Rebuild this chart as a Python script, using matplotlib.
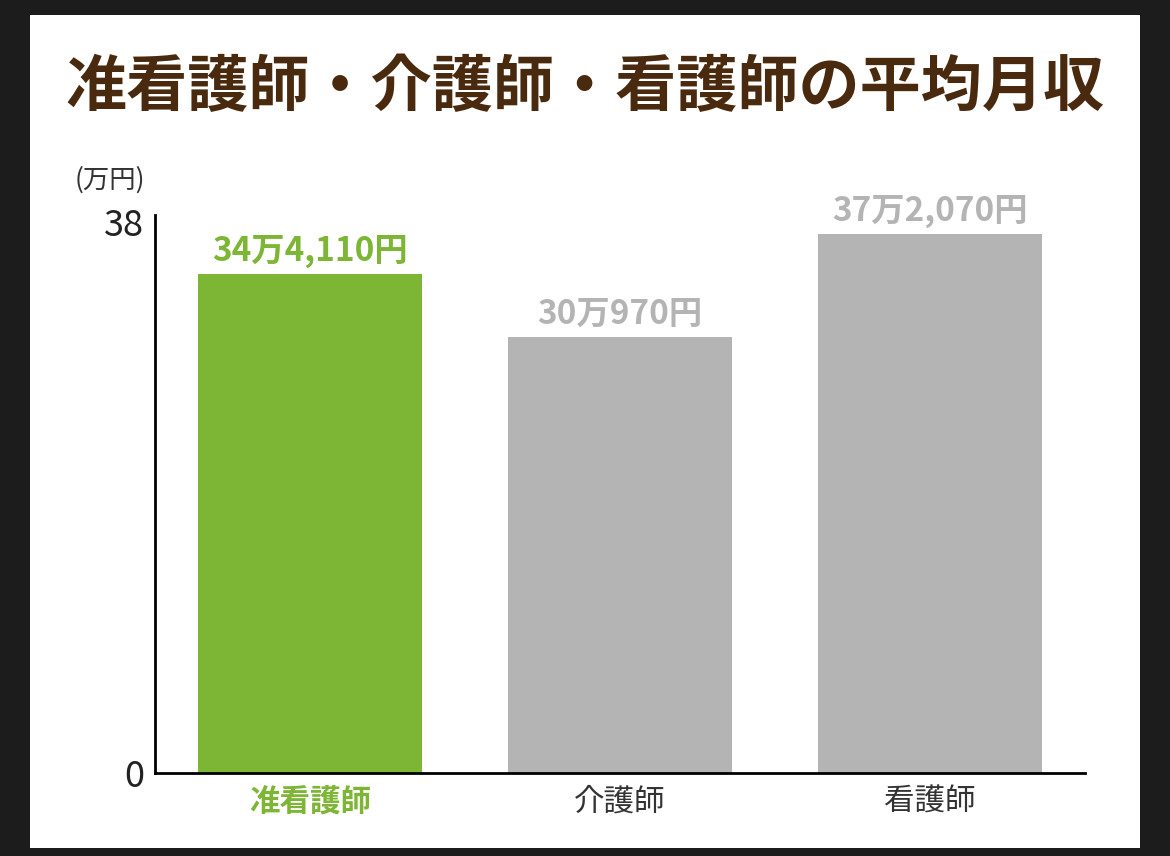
import matplotlib.pyplot as plt
from matplotlib.patches import Rectangle

plt.rcParams['font.family'] = ['Noto Sans CJK JP', 'DejaVu Sans']

categories = ['准看護師', '介護師', '看護師']
values = [34.411, 30.097, 37.207]
value_labels = ['34万4,110円', '30万970円', '37万2,070円']
colors = ['#7db534', '#b4b4b4', '#b4b4b4']
label_colors = ['#7db534', '#333333', '#333333']

W, H = 1170, 856
fig = plt.figure(figsize=(W / 100, H / 100), dpi=100, facecolor='#1c1c1c')
fig.patches.append(Rectangle((30 / W, 8 / H), 1110 / W, 833 / H, transform=fig.transFigure,
                             facecolor='white', edgecolor='none', zorder=-10))

ax = fig.add_axes([155 / W, 1 - 773 / H, 930 / W, 558 / H])
ax.set_facecolor('none')
x = range(len(categories))
ax.bar(x, values, width=0.72, color=colors, zorder=2)
for i, v in enumerate(values):
    ax.text(i, v + 0.4, value_labels[i], ha='center', va='bottom', fontsize=24,
            fontweight='bold', color=colors[i])

ax.set_xlim(-0.5, 2.5)
ax.set_ylim(0, 38.5)
ax.set_yticks([0, 38])
ax.set_yticklabels(['0', '38'], fontsize=26, color='#222222')
ax.set_xticks(list(x))
ax.set_xticklabels(categories, fontsize=22)
for t, c in zip(ax.get_xticklabels(), label_colors):
    t.set_color(c)
    if c == '#7db534':
        t.set_fontweight('bold')
ax.tick_params(length=0, pad=8)
ax.tick_params(axis='x', pad=10)
for s in ['top', 'right']:
    ax.spines[s].set_visible(False)
ax.spines['left'].set_linewidth(2)
ax.spines['bottom'].set_linewidth(2)

fig.text(110 / W, 1 - 180 / H, '(万円)', ha='center', va='center', fontsize=19, color='#333333')
fig.text(585 / W, 1 - 88 / H, '准看護師・介護師・看護師の平均月収', ha='center', va='center',
         fontsize=44, fontweight='bold', color='#4a2a0e')

fig.savefig('out.png', dpi=100, facecolor=fig.get_facecolor())
